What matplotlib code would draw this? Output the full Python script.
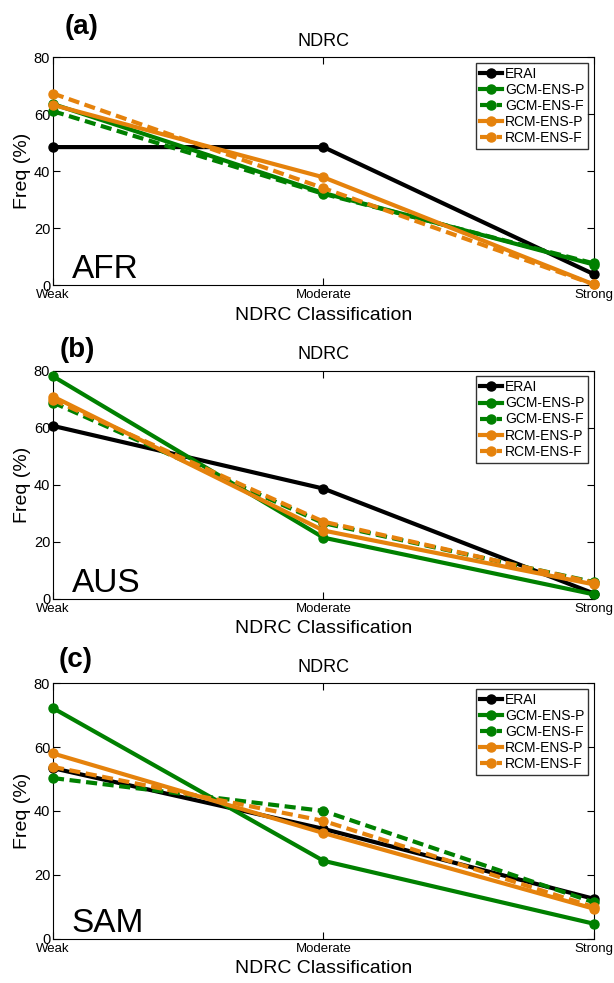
import matplotlib
matplotlib.use("Agg")
import matplotlib.pyplot as plt

# ── Data ─────────────────────────────────────────────────────────────────────
CLASSES = ["Weak", "Moderate", "Strong"]
SERIES  = ["ERAI", "GCM-ENS-P", "GCM-ENS-F", "RCM-ENS-P", "RCM-ENS-F"]

afr_erai  = [48.4, 48.4, 3.8]
afr_gcm_p = [63.5, 32.3, 7.2]
afr_gcm_f = [61.0, 32.0, 7.6]
afr_rcm_p = [63.2, 37.8, 0.2]
afr_rcm_f = [67.2, 34.0, 0.2]

aus_erai  = [60.6, 38.6, 1.8]
aus_gcm_p = [78.0, 21.4, 1.5]
aus_gcm_f = [68.8, 26.5, 5.8]
aus_rcm_p = [70.9, 23.9, 5.0]
aus_rcm_f = [69.8, 27.0, 5.6]

sam_erai  = [53.4, 34.4, 12.5]
sam_gcm_p = [72.2, 24.4, 4.7]
sam_gcm_f = [50.3, 40.0, 11.4]
sam_rcm_p = [58.0, 33.1, 9.4]
sam_rcm_f = [53.8, 36.9, 9.9]

PANELS = [
    ("(a)", "AFR", [afr_erai, afr_gcm_p, afr_gcm_f, afr_rcm_p, afr_rcm_f]),
    ("(b)", "AUS", [aus_erai, aus_gcm_p, aus_gcm_f, aus_rcm_p, aus_rcm_f]),
    ("(c)", "SAM", [sam_erai, sam_gcm_p, sam_gcm_f, sam_rcm_p, sam_rcm_f]),
]

# ── Style ────────────────────────────────────────────────────────────────────
plt.rcParams["font.family"] = ["Liberation Sans", "DejaVu Sans"]
plt.rcParams["lines.scale_dashes"] = False

GREEN  = "#008000"
ORANGE = "#e5820c"
STYLES = [
    ("black", "-"),
    (GREEN,   "-"),
    (GREEN,   "--"),
    (ORANGE,  "-"),
    (ORANGE,  "--"),
]

# axes rectangles [left, bottom, width, height] in figure fractions
RECTS = [
    [0.0863, 0.710, 0.881, 0.232],
    [0.0863, 0.391, 0.881, 0.232],
    [0.0863, 0.045, 0.881, 0.260],
]
# panel tag position (axes fractions)
TAG_POS = [(0.022, 1.13), (0.012, 1.09), (0.010, 1.09)]

fig = plt.figure(figsize=(6.14, 9.83), dpi=100)
x = list(range(len(CLASSES)))

for (tag, region, rows), rect, tpos in zip(PANELS, RECTS, TAG_POS):
    ax = fig.add_axes(rect)
    for name, vals, (col, ls) in zip(SERIES, rows, STYLES):
        kw = dict(dashes=(8, 4)) if ls == "--" else {}
        ax.plot(x, vals, color=col, linestyle=ls, linewidth=3.0,
                marker="o", markersize=6.5, markeredgecolor=col,
                label=name, clip_on=False, zorder=3, **kw)

    ax.set_xlim(0, 2)
    ax.set_ylim(0, 80)
    ax.set_xticks(x)
    ax.set_xticklabels(CLASSES, fontsize=9.5)
    ax.set_yticks([0, 20, 40, 60, 80])
    ax.tick_params(axis="y", labelsize=10.5)
    ax.tick_params(direction="in", top=True, right=True, length=5, pad=2)
    ax.tick_params(axis="x", pad=3)

    ax.set_title("NDRC", fontsize=13, pad=8)
    ax.set_xlabel("NDRC Classification", fontsize=14, labelpad=4)
    ax.set_ylabel("Freq (%)", fontsize=14, labelpad=2)

    ax.text(0.035, 0.0, region, transform=ax.transAxes, fontsize=24,
            ha="left", va="bottom")
    ax.text(tpos[0], tpos[1], tag, transform=ax.transAxes, fontsize=20,
            fontweight="bold", ha="left", va="center")

    leg = ax.legend(loc="upper right", fontsize=10, frameon=True,
                    fancybox=False, handlelength=1.6, handletextpad=0.2,
                    labelspacing=0.15, borderpad=0.3, borderaxespad=0.4)
    leg.get_frame().set_edgecolor("black")
    leg.get_frame().set_linewidth(1.0)

fig.savefig("out.png", dpi=100)
